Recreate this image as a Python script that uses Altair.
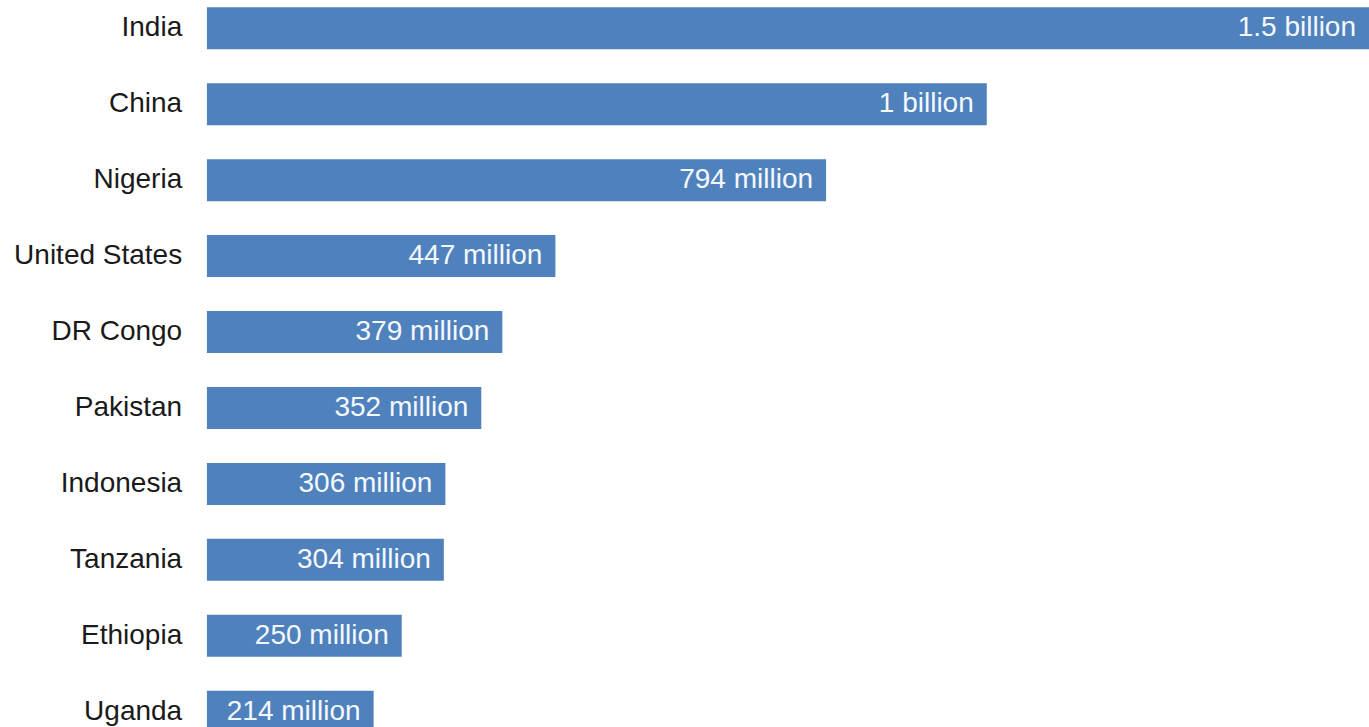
import altair as alt
import pandas as pd

countries = ["India", "China", "Nigeria", "United States", "DR Congo",
             "Pakistan", "Indonesia", "Tanzania", "Ethiopia", "Uganda"]
values_million = [1490, 1000, 794, 447, 379, 352, 306, 304, 250, 214]
value_labels = ["1.5 billion", "1 billion", "794 million", "447 million",
                "379 million", "352 million", "306 million", "304 million",
                "250 million", "214 million"]

df = pd.DataFrame({"country": countries, "value": values_million, "label": value_labels})

FONT = "Liberation Sans"
BAR = "#4F81BD"

y = alt.Y("country:N", sort=countries, title=None,
          scale=alt.Scale(range=[7.3, 732.7], paddingInner=0.447, paddingOuter=0),
          axis=alt.Axis(domain=False, ticks=False, tickSize=0, labelPadding=25,
                        labelFont=FONT, labelFontSize=28, labelColor="#1a1a1a",
                        labelLimit=400))
x = alt.X("value:Q", title=None,
          scale=alt.Scale(domain=[0, 1490], nice=False, zero=True),
          axis=None)

bars = alt.Chart(df).mark_bar(color=BAR, clip=True).encode(x=x, y=y)
texts = alt.Chart(df).mark_text(align="right", baseline="middle", dx=-13,
                                font=FONT, fontSize=28, color="#F4F8FF",
                                clip=True).encode(x=x, y=y, text="label:N")

chart = (bars + texts).properties(
    width=1162.3, height=727,
    padding={"left": 206.7, "top": 0, "right": 0, "bottom": 0},
    autosize=alt.AutoSizeParams(type="none"),
    background="white",
).configure_view(stroke=None)

chart.save("out.html", embed_options={"renderer": "svg", "actions": False})
